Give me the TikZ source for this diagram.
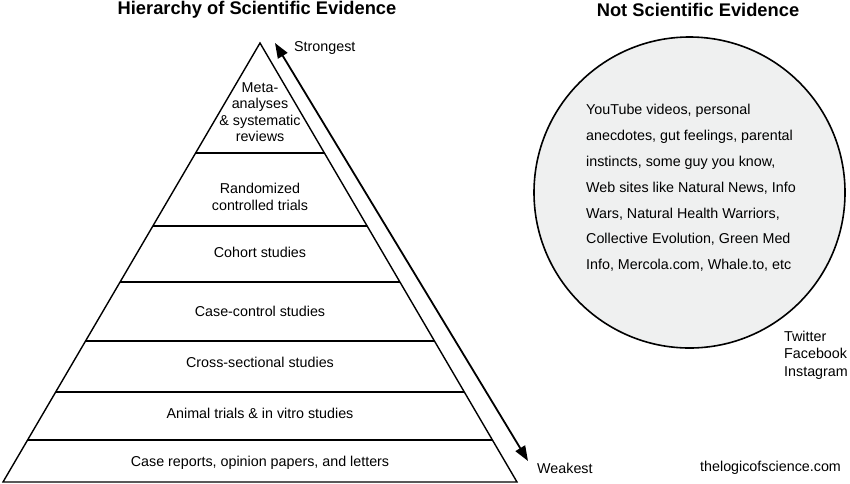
\documentclass[tikz,border=0pt]{standalone}
\usepackage{fontspec}
\setmainfont{Liberation Sans}
\usetikzlibrary{positioning,arrows.meta}
\definecolor{bubblefill}{RGB}{239,240,240}

\begin{document}
\begin{tikzpicture}[x=1pt,y=-1pt,
    level/.style={font=\fontsize{14.3}{16.5}\selectfont,align=center,inner sep=0pt},
    plain/.style={font=\fontsize{14.3}{17.5}\selectfont,align=left,inner sep=0pt,anchor=west},
    heading/.style={font=\fontsize{18.3}{22}\selectfont\bfseries,inner sep=0pt},
    divider/.style={line width=2.4pt},
    arrow/.style={{Triangle[length=15pt,width=11pt]}-{Triangle[length=15pt,width=11pt]},line width=1.8pt}]

\useasboundingbox (0,0) rectangle (850,483);

% Titres
\node[heading] (hier) at (257,10) {Hierarchy of Scientific Evidence};
\node[heading] (notsci) at (698,10) {Not Scientific Evidence};

% Pyramide
\coordinate (apex) at (260,43);
\coordinate (baseL) at (3,482);
\coordinate (baseR) at (517,482);
\draw[line width=1.4pt] (apex) -- (baseL) -- (baseR) -- cycle;
\foreach \y in {153,226,282,341,392,440} {
  \pgfmathsetmacro{\hw}{0.5854*(\y-43)}
  \draw[divider] (260-\hw,\y) -- (260+\hw,\y);
}

\node[level] (meta) at (260,112) {Meta-\\analyses\\\& systematic\\reviews};
\node[level] (rct) at (260,197) {Randomized\\controlled trials};
\node[level] (cohort) at (260,252) {Cohort studies};
\node[level] (casecontrol) at (260,311) {Case-control studies};
\node[level] (cross) at (260,362) {Cross-sectional studies};
\node[level] (animal) at (260,413) {Animal trials \& in vitro studies};
\node[level] (reports) at (260,463) {Case reports, opinion papers, and letters};

% Fleche force
\coordinate (strong) at (275,43);
\coordinate (weak) at (528,461);
\draw[arrow] (strong) -- (weak);
\node[plain] (strongest) at (294,48) {Strongest};
\node[plain] (weakest) at (537,468) {Weakest};

% Cercle
\node[circle,draw,line width=1.6pt,fill=bubblefill,minimum size=311pt,inner sep=0pt] (bubble) at (689.5,192.5) {};
\node[plain,font=\fontsize{14.3}{25.8}\selectfont] (claims) at (586,188) {YouTube videos, personal\\anecdotes, gut feelings, parental\\instincts, some guy you know,\\Web sites like Natural News, Info\\Wars, Natural Health Warriors,\\Collective Evolution, Green Med\\Info, Mercola.com, Whale.to, etc};

\node[plain] (social) at (784,355) {Twitter\\Facebook\\Instagram};
\node[plain] (site) at (700,468) {thelogicofscience.com};

\end{tikzpicture}
\end{document}
